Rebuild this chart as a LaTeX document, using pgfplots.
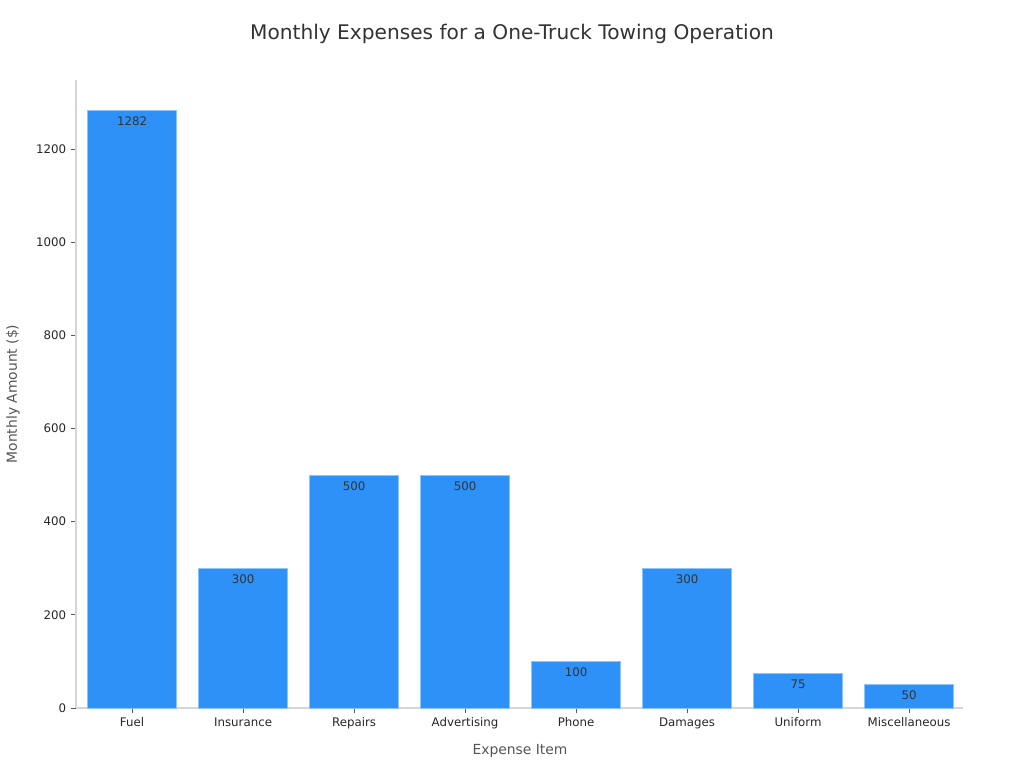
\documentclass[border=0pt]{standalone}
\usepackage{pgfplots}
\pgfplotsset{compat=1.18}
\usepackage{fontspec}
\setmainfont{DejaVu Sans}
\definecolor{barblue}{HTML}{2E91F8}
\definecolor{baredge}{HTML}{8CC4FB}
\definecolor{axisgray}{HTML}{D6D6D6}
\definecolor{textgray}{HTML}{333333}
\definecolor{labelgray}{HTML}{555555}

\begin{document}
\begin{tikzpicture}[x=0.72pt,y=0.72pt]
\useasboundingbox (0,0) rectangle (1024,768);
\node[font=\fontsize{14.5}{17}\selectfont, text=textgray] at (512,734) {Monthly Expenses for a One-Truck Towing Operation};
\node[font=\fontsize{10}{12}\selectfont, text=labelgray] at (520,17) {Expense Item};
\node[font=\fontsize{10}{12}\selectfont, text=labelgray, rotate=90] at (13,374) {Monthly Amount (\$)};
\begin{axis}[
    at={(76*0.72pt,60*0.72pt)}, anchor=south west,
    scale only axis, width=638.64pt, height=452.16pt,
    ybar, bar width=0.8,
    /pgf/bar shift=0pt,
    xmin=-0.505, xmax=7.486,
    ymin=0, ymax=1348,
    xtick={0,1,2,3,4,5,6,7},
    xticklabels={Fuel,Insurance,Repairs,Advertising,Phone,Damages,Uniform,Miscellaneous},
    ytick={0,200,400,600,800,1000,1200},
    axis x line*=bottom, axis y line*=left,
    axis line style={axisgray, line width=0.8pt, -},
    tick style={black!65, line width=0.6pt},
    major tick length=3.5pt,
    tick align=outside,
    /pgf/number format/assume math mode=true,
    /pgf/number format/1000 sep={},
    ticklabel style={font=\fontsize{8.5}{10}\selectfont, text=black!85},
    nodes near coords,
    every node near coord/.append style={anchor=north, yshift=-1pt, font=\fontsize{8.5}{10}\selectfont, text=textgray},
    clip=false,
]
\addplot[fill=barblue, draw=baredge, line width=0.6pt] coordinates {
    (0,1282) (1,300) (2,500) (3,500) (4,100) (5,300) (6,75) (7,50)
};
\end{axis}
\end{tikzpicture}
\end{document}
